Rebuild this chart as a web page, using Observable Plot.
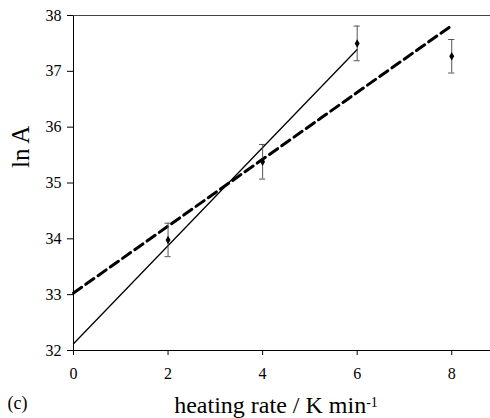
<!DOCTYPE html>
<html>
<head>
<meta charset="utf-8">
<script src="https://cdn.jsdelivr.net/npm/d3@7"></script>
<script src="https://cdn.jsdelivr.net/npm/@observablehq/plot@0.6"></script>
<style>
  html, body { margin: 0; padding: 0; background: #fff; }
  svg text { font-family: "Liberation Serif", "Times New Roman", serif; }
</style>
</head>
<body>
<div id="chart"></div>
<script>
// Data
const rates = [2, 4, 6, 8];
const lnA = [33.98, 35.38, 37.5, 37.27];
const errors = [0.30, 0.31, 0.31, 0.30];

const solidFitX = [0, 6];
const solidFitY = [32.12, 37.39];
const dashedFitX = [0, 8];
const dashedFitY = [33.03, 37.82];

const xTicks = [0, 2, 4, 6, 8];
const yTicks = [32, 33, 34, 35, 36, 37, 38];

const points = rates.map((x, i) => ({x, y: lnA[i], e: errors[i]}));
const solid = solidFitX.map((x, i) => ({x, y: solidFitY[i]}));
const dashed = dashedFitX.map((x, i) => ({x, y: dashedFitY[i]}));

const capHalf = 0.065;

const chart = Plot.plot({
  width: 490,
  height: 418,
  marginLeft: 73,
  marginTop: 15,
  marginBottom: 68,
  marginRight: 0,
  x: {domain: [0, 8.82]},
  y: {domain: [32, 38]},
  style: {fontFamily: "Liberation Serif", background: "#fff", color: "#000"},
  marks: [
    Plot.axisY(yTicks, {tickSize: 6, tickPadding: 6, fontSize: 16, label: null, stroke: "#000", tickFormat: d => String(d)}),
    Plot.axisX(xTicks, {tickSize: 5, tickPadding: 12, fontSize: 16, label: null, stroke: "#000", tickFormat: d => String(d)}),
    Plot.ruleX([0], {stroke: "#000"}),
    Plot.ruleY([32], {stroke: "#000"}),
    Plot.ruleY([38], {stroke: "#444"}),
    Plot.line(solid, {x: "x", y: "y", stroke: "#000", strokeWidth: 1.3}),
    Plot.line(dashed, {x: "x", y: "y", stroke: "#000", strokeWidth: 3, strokeDasharray: "10,5"}),
    Plot.ruleX(points, {x: "x", y1: d => d.y - d.e, y2: d => d.y + d.e, stroke: "#555", strokeWidth: 1}),
    Plot.ruleY(points, {y: d => d.y + d.e, x1: d => d.x - capHalf, x2: d => d.x + capHalf, stroke: "#555"}),
    Plot.ruleY(points, {y: d => d.y - d.e, x1: d => d.x - capHalf, x2: d => d.x + capHalf, stroke: "#555"}),
    Plot.dot(points, {x: "x", y: "y", symbol: "diamond", r: 2.6, fill: "#000", stroke: null}),
    Plot.text(["ln A"], {frameAnchor: "left", rotate: -90, dx: -53, dy: -15, fontSize: 25, fill: "#000"}),
    Plot.text(["heating rate / K min"], {frameAnchor: "bottom", dx: -6, dy: 55, fontSize: 24, fill: "#000", lineAnchor: "middle", textAnchor: "middle"}),
    Plot.text(["(c)"], {frameAnchor: "bottom-left", dx: -66, dy: 53, fontSize: 18, fill: "#000", textAnchor: "start", lineAnchor: "middle"})
  ]
});

document.getElementById("chart").appendChild(chart);

// superscript -1 on the x label
d3.select(chart).selectAll("text").filter(function() {
  return this.textContent === "heating rate / K min";
}).each(function() {
  const t = d3.select(this);
  t.append("tspan").attr("dy", "-0.45em").attr("font-size", "14px").text("-1");
});
</script>
</body>
</html>
